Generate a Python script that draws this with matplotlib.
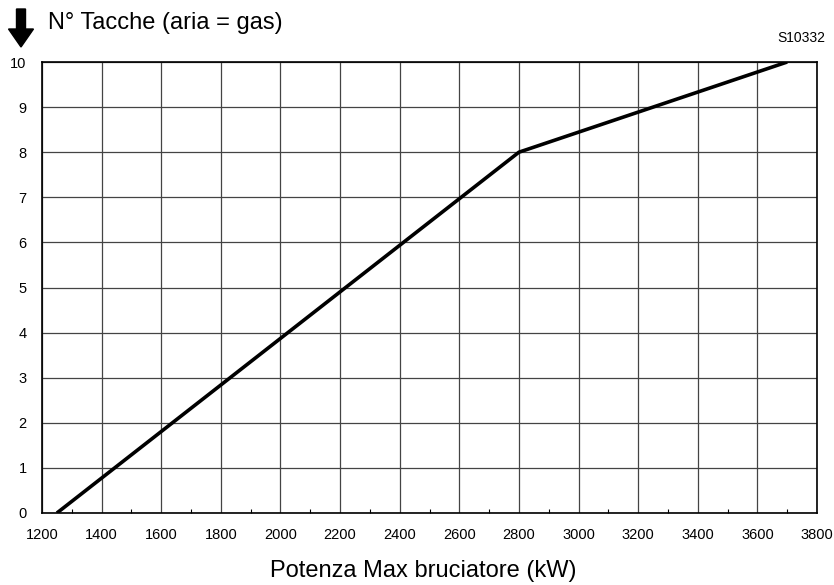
import matplotlib.pyplot as plt
from matplotlib.patches import FancyArrow
from matplotlib.ticker import MultipleLocator

plt.rcParams['font.family'] = ['Liberation Sans', 'DejaVu Sans']

# curva: potenza max bruciatore (kW) -> numero tacche
potenza_kw = [1250, 2800, 3700]
tacche = [0, 8, 10]

x_ticks = list(range(1200, 3801, 200))
y_ticks = list(range(0, 11))

fig = plt.figure(figsize=(8.34, 5.85), dpi=100)
ax = fig.add_axes([42 / 834, 72 / 585, 775 / 834, 451 / 585])

ax.plot(potenza_kw, tacche, color='black', linewidth=2.6, solid_capstyle='butt', zorder=3)

ax.set_xlim(1200, 3800)
ax.set_ylim(0, 10)
ax.set_xticks(x_ticks)
ax.set_yticks(y_ticks)
ax.xaxis.set_minor_locator(MultipleLocator(100))
ax.grid(True, which='major', color='#444444', linewidth=0.9)
ax.tick_params(axis='both', which='major', length=0, labelsize=10.5)
ax.tick_params(axis='x', which='major', pad=11)
ax.tick_params(axis='y', which='major', pad=11)
ax.tick_params(axis='x', which='minor', direction='in', length=3, width=0.8)
for s in ax.spines.values():
    s.set_linewidth(1.2)

fig.text(0.5 * (269 + 577) / 834, 1 - 571 / 585, 'Potenza Max bruciatore (kW)',
         ha='center', va='center', fontsize=17)
fig.text(48 / 834, 1 - 23 / 585, 'N° Tacche (aria = gas)', ha='left', va='center', fontsize=17)
fig.text(801 / 834, 1 - 38 / 585, 'S10332', ha='center', va='center', fontsize=10)

# freccia verso il basso accanto al titolo
fig.patches.append(FancyArrow(
    21 / 834, 1 - 9 / 585, 0, -38 / 585, width=9 / 834, head_width=25 / 834,
    head_length=18 / 585, length_includes_head=True, color='black',
    transform=fig.transFigure, figure=fig))

fig.savefig('out.png', dpi=100)
